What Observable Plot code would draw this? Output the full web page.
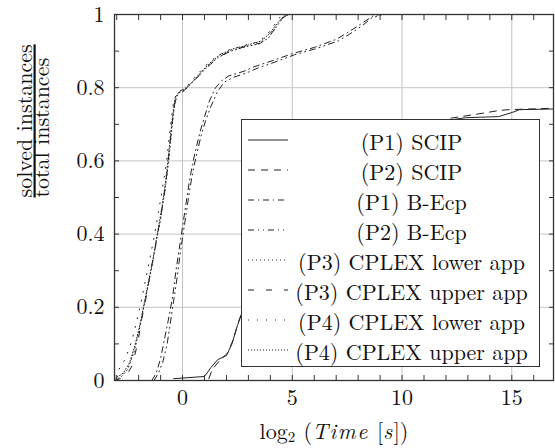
<!DOCTYPE html>
<html>
<head>
<meta charset="utf-8">
<script src="https://cdn.jsdelivr.net/npm/d3@7"></script>
<script src="https://cdn.jsdelivr.net/npm/@observablehq/plot@0.6"></script>
<style>
  html, body { margin: 0; padding: 0; background: #fff; }
  #wrap { position: relative; width: 555px; height: 448px; color: #111; overflow: hidden; }
  #chart { position: absolute; left: 0; top: -10px; }
  #xlabel { position: absolute; left: 334px; top: 419px; transform: translateX(-50%); font-size: 22px; white-space: nowrap; line-height: 1; word-spacing: 1px; }
  #xlabel i { letter-spacing: 1.5px; }
  #xlabel sub { font-size: 15px; vertical-align: -3px; line-height: 1; }
  #legend { position: absolute; left: 241px; top: 119px; width: 299px; height: 248px; background: #fff; border: 1px solid #333; box-sizing: border-box; padding-top: 5px; }
  .row { height: 30px; display: flex; align-items: center; font-size: 22px; }
  .row svg { margin-left: 6px; flex: none; }
  .row span { flex: 1; text-align: center; white-space: nowrap; padding-right: 4px; }
</style>
</head>
<body>
<div id="wrap" style="font-family: 'Latin Modern Roman', 'Liberation Serif', serif;">
  <div id="chart"></div>
  <div id="xlabel" style="font-family: 'Latin Modern Roman', 'Liberation Serif', serif;">log<sub>2</sub> (<i>Time</i> [<i>s</i>])</div>
  <div id="legend" style="font-family: 'Latin Modern Roman', 'Liberation Serif', serif;"></div>
</div>
<script>
// ---------- data ----------
const seriesNames = [
  "(P1) SCIP", "(P2) SCIP", "(P1) B-Ecp", "(P2) B-Ecp",
  "(P3) CPLEX lower app", "(P3) CPLEX upper app",
  "(P4) CPLEX lower app", "(P4) CPLEX upper app"
];
const yLabelNumerator = ["solved instances"];
const yLabelDenominator = ["total instances"];

const xTicksMinor = d3.range(-3, 17);
const xTickLabels = [0, 5, 10, 15];
const yTicksMinor = d3.range(0, 11).map(i => i / 10);
const yTickLabels = [0, 0.2, 0.4, 0.6, 0.8, 1];

const p1Scip = [[-0.4,0.005],[1.0,0.011],[1.3,0.036],[1.6,0.057],[2.0,0.068],[2.25,0.1],[2.5,0.15],[2.8,0.2],[3.2,0.27],[4,0.37],[5,0.46],[6,0.53],[7,0.58],[8,0.62],[9,0.65],[10,0.67],[11,0.69],[12,0.71],[12.9,0.718],[14.4,0.721],[15.05,0.733],[15.35,0.74],[17,0.742]];
const p2Scip = [[1.2,0.005],[1.35,0.03],[1.7,0.055],[2.05,0.075],[2.3,0.11],[2.55,0.16],[2.9,0.22],[3.3,0.28],[4,0.37],[5,0.46],[6,0.53],[7,0.58],[8,0.625],[9,0.655],[10,0.68],[11,0.7],[12.26,0.717],[13.55,0.729],[14.45,0.738],[14.9,0.74],[17,0.744]];
const p1BEcp = [[-1.4,0],[-1.2,0.02],[-1.0,0.06],[-0.8,0.12],[-0.6,0.18],[-0.45,0.23],[-0.3,0.3],[-0.15,0.36],[0,0.42],[0.15,0.48],[0.3,0.54],[0.45,0.59],[0.6,0.63],[0.8,0.68],[1.0,0.72],[1.2,0.76],[1.5,0.8],[1.8,0.82],[2.1,0.832],[2.8,0.845],[3.3,0.858],[4.2,0.876],[5.0,0.893],[6.0,0.91],[7.0,0.932],[7.5,0.95],[8.1,0.973],[8.7,0.997],[9,1]];
const p2BEcp = [[-1.3,0],[-1.1,0.02],[-0.9,0.05],[-0.7,0.1],[-0.55,0.16],[-0.4,0.22],[-0.25,0.28],[-0.1,0.35],[0.05,0.41],[0.2,0.47],[0.35,0.53],[0.5,0.58],[0.65,0.62],[0.85,0.67],[1.05,0.71],[1.3,0.75],[1.6,0.79],[1.9,0.815],[2.3,0.828],[2.9,0.84],[3.4,0.853],[4.3,0.872],[5.1,0.89],[6.1,0.907],[7.1,0.928],[7.6,0.946],[8.2,0.97],[8.6,0.99],[9.1,1]];
const p3Lower = [[-3.1,0],[-2.8,0.01],[-2.5,0.03],[-2.2,0.08],[-2.0,0.13],[-1.8,0.19],[-1.6,0.25],[-1.4,0.31],[-1.2,0.38],[-1.0,0.44],[-0.8,0.52],[-0.65,0.59],[-0.55,0.65],[-0.45,0.71],[-0.35,0.76],[-0.2,0.785],[0,0.79],[0.3,0.805],[0.7,0.83],[1.1,0.855],[1.6,0.882],[2.2,0.9],[2.9,0.912],[3.5,0.92],[3.9,0.935],[4.2,0.96],[4.5,0.985],[4.7,1]];
const p3Upper = [[-3.1,0],[-2.6,0.01],[-2.3,0.04],[-2.05,0.1],[-1.85,0.17],[-1.65,0.23],[-1.45,0.3],[-1.25,0.36],[-1.05,0.43],[-0.85,0.5],[-0.7,0.57],[-0.58,0.64],[-0.48,0.7],[-0.38,0.75],[-0.25,0.78],[0,0.788],[0.35,0.808],[0.75,0.833],[1.15,0.858],[1.65,0.884],[2.25,0.902],[2.95,0.914],[3.55,0.922],[3.95,0.94],[4.25,0.965],[4.55,0.99],[4.8,1]];
const p4Lower = [[-3.1,0.01],[-2.9,0.03],[-2.6,0.06],[-2.3,0.11],[-2.1,0.16],[-1.9,0.21],[-1.7,0.27],[-1.5,0.33],[-1.3,0.39],[-1.1,0.46],[-0.9,0.53],[-0.72,0.6],[-0.6,0.67],[-0.5,0.72],[-0.4,0.765],[-0.25,0.785],[0,0.795],[0.3,0.81],[0.65,0.835],[1.05,0.86],[1.55,0.886],[2.1,0.903],[2.8,0.915],[3.4,0.925],[3.8,0.94],[4.1,0.965],[4.4,0.99],[4.6,1]];
const p4Upper = [[-3.1,0.005],[-2.7,0.02],[-2.4,0.05],[-2.15,0.1],[-1.95,0.15],[-1.75,0.21],[-1.55,0.27],[-1.35,0.33],[-1.15,0.4],[-0.95,0.47],[-0.78,0.54],[-0.65,0.61],[-0.55,0.67],[-0.45,0.72],[-0.35,0.77],[-0.15,0.79],[0.1,0.797],[0.4,0.813],[0.8,0.84],[1.2,0.865],[1.7,0.89],[2.3,0.906],[3.0,0.917],[3.6,0.928],[4.0,0.95],[4.3,0.975],[4.6,0.995],[4.9,1]];

// ---------- styles ----------
const seriesPoints = [p1Scip, p2Scip, p1BEcp, p2BEcp, p3Lower, p3Upper, p4Lower, p4Upper];
const dashStyles = ["none", "7,6", "6,4,1,4", "6,4,1,4,1,4", "1,3", "6,12", "1,8", "1,2"];
const lineColor = "#222";
const fontStack = "'Latin Modern Roman', 'Liberation Serif', serif";

const table = seriesNames.flatMap((name, i) =>
  seriesPoints[i].map(([x, y]) => ({name, x, y})));

const lineMarks = seriesNames.map((name, i) =>
  Plot.line(table.filter(d => d.name === name), {
    x: "x", y: "y", stroke: lineColor, strokeWidth: 1,
    strokeDasharray: dashStyles[i] === "none" ? null : dashStyles[i],
    clip: true
  }));

const tickStyle = {stroke: "#333", strokeWidth: 1, strokeOpacity: 1};
const fmt = d => String(d);

const chart = Plot.plot({
  width: 555,
  height: 422,
  marginLeft: 114,
  marginRight: 2,
  marginTop: 24,
  marginBottom: 32,
  style: {fontFamily: fontStack, fontSize: "22px", color: "#111", background: "transparent", overflow: "visible"},
  x: {domain: [-3.1, 16.9]},
  y: {domain: [0, 1]},
  marks: [
    Plot.gridX(xTickLabels, {stroke: "#c4c4c4", strokeOpacity: 1}),
    Plot.gridY(yTickLabels, {stroke: "#c4c4c4", strokeOpacity: 1}),
    ...lineMarks,
    Plot.axisX(xTicksMinor, {anchor: "bottom", tickSize: -5, text: null, label: null, ...tickStyle}),
    Plot.axisX(xTicksMinor, {anchor: "top", tickSize: -5, text: null, label: null, ...tickStyle}),
    Plot.axisY(yTicksMinor, {anchor: "left", tickSize: -5, text: null, label: null, ...tickStyle}),
    Plot.axisY(yTicksMinor, {anchor: "right", tickSize: -5, text: null, label: null, ...tickStyle}),
    Plot.axisX(xTickLabels, {anchor: "bottom", tickSize: 0, tickPadding: 9, label: null, tickFormat: fmt, fontSize: 22, fill: "#111"}),
    Plot.axisY(yTickLabels, {anchor: "left", tickSize: 0, tickPadding: 10, label: null, tickFormat: fmt, fontSize: 22, fill: "#111"}),
    Plot.text(yLabelNumerator, {text: d => d, frameAnchor: "left", rotate: -90, lineAnchor: "bottom", dx: -83, fontSize: 22, fill: "#111", className: "ynum"}),
    Plot.text(yLabelDenominator, {text: d => d, frameAnchor: "left", rotate: -90, lineAnchor: "top", dx: -81, fontSize: 22, fill: "#111"}),
    Plot.frame({stroke: "#333", strokeWidth: 1.3})
  ]
});
document.getElementById("chart").appendChild(chart);
d3.select(chart).selectAll(".ynum text").style("text-decoration", "underline").style("text-decoration-thickness", "1px");

// ---------- legend ----------
const legend = d3.select("#legend");
seriesNames.forEach((name, i) => {
  const row = legend.append("div").attr("class", "row");
  const s = row.append("svg").attr("width", 40).attr("height", 10);
  s.append("line").attr("x1", 0).attr("x2", 40).attr("y1", 5).attr("y2", 5)
    .attr("stroke", lineColor).attr("stroke-width", 1)
    .attr("stroke-dasharray", dashStyles[i] === "none" ? null : dashStyles[i]);
  row.append("span").text(name);
});
</script>
</body>
</html>
